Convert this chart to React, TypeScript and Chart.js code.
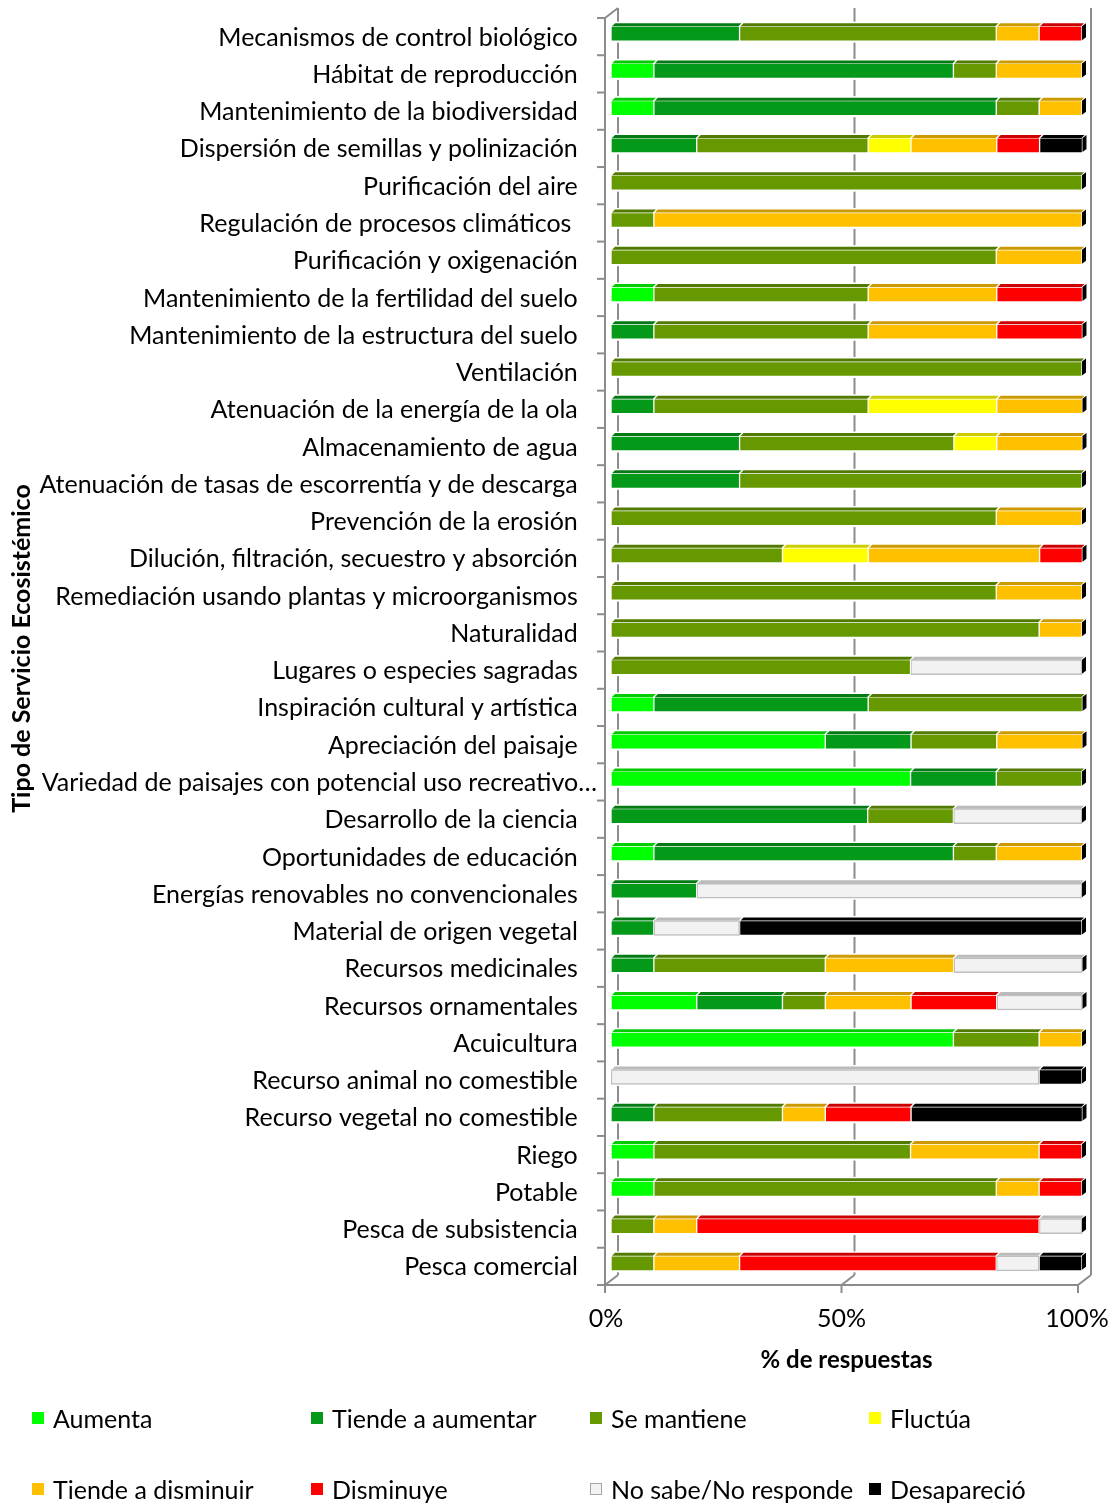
import React, { useEffect, useRef } from 'react';
import { Chart, registerables } from 'chart.js';

Chart.register(...registerables);

// Categories (ecosystem services), listed top to bottom
const categories = [
  'Mecanismos de control biológico',
  'Hábitat de reproducción',
  'Mantenimiento de la biodiversidad',
  'Dispersión de semillas y polinización',
  'Purificación del aire',
  'Regulación de procesos climáticos ',
  'Purificación y oxigenación',
  'Mantenimiento de la fertilidad del suelo',
  'Mantenimiento de la estructura del suelo',
  'Ventilación',
  'Atenuación de la energía de la ola',
  'Almacenamiento de agua',
  'Atenuación de tasas de escorrentía y de descarga',
  'Prevención de la erosión',
  'Dilución, filtración, secuestro y absorción',
  'Remediación usando plantas y microorganismos',
  'Naturalidad',
  'Lugares o especies sagradas',
  'Inspiración cultural y artística',
  'Apreciación del paisaje',
  'Variedad de paisajes con potencial uso recreativo…',
  'Desarrollo de la ciencia',
  'Oportunidades de educación',
  'Energías renovables no convencionales',
  'Material de origen vegetal',
  'Recursos medicinales',
  'Recursos ornamentales',
  'Acuicultura',
  'Recurso animal no comestible',
  'Recurso vegetal no comestible',
  'Riego',
  'Potable',
  'Pesca de subsistencia',
  'Pesca comercial',
];

// % of responses per category
const aumenta = [0, 9.1, 9.1, 0, 0, 0, 0, 9.1, 0, 0, 0, 0, 0, 0, 0, 0, 0, 0, 9.1, 45.5, 63.6, 0, 9.1, 0, 0, 0, 18.2, 72.7, 0, 0, 9.1, 9.1, 0, 0];
const tiendeAumentar = [27.3, 63.6, 72.7, 18.2, 0, 0, 0, 0, 9.1, 0, 9.1, 27.3, 27.3, 0, 0, 0, 0, 0, 45.5, 18.2, 18.2, 54.5, 63.6, 18.2, 9.1, 9.1, 18.2, 0, 0, 9.1, 0, 0, 0, 0];
const seMantiene = [54.5, 9.1, 9.1, 36.4, 100, 9.1, 81.8, 45.5, 45.5, 100, 45.5, 45.5, 72.7, 81.8, 36.4, 81.8, 90.9, 63.6, 45.5, 18.2, 18.2, 18.2, 9.1, 0, 0, 36.4, 9.1, 18.2, 0, 27.3, 54.5, 72.7, 9.1, 9.1];
const fluctua = [0, 0, 0, 9.1, 0, 0, 0, 0, 0, 0, 27.3, 9.1, 0, 0, 18.2, 0, 0, 0, 0, 0, 0, 0, 0, 0, 0, 0, 0, 0, 0, 0, 0, 0, 0, 0];
const tiendeDisminuir = [9.1, 18.2, 9.1, 18.2, 0, 90.9, 18.2, 27.3, 27.3, 0, 18.2, 18.2, 0, 18.2, 36.4, 18.2, 9.1, 0, 0, 18.2, 0, 0, 18.2, 0, 0, 27.3, 18.2, 9.1, 0, 9.1, 27.3, 9.1, 9.1, 18.2];
const disminuye = [9.1, 0, 0, 9.1, 0, 0, 0, 18.2, 18.2, 0, 0, 0, 0, 0, 9.1, 0, 0, 0, 0, 0, 0, 0, 0, 0, 0, 0, 18.2, 0, 0, 18.2, 9.1, 9.1, 72.7, 54.5];
const noSabe = [0, 0, 0, 0, 0, 0, 0, 0, 0, 0, 0, 0, 0, 0, 0, 0, 0, 36.4, 0, 0, 0, 27.3, 0, 81.8, 18.2, 27.3, 18.2, 0, 90.9, 0, 0, 0, 9.1, 9.1];
const desaparecio = [0, 0, 0, 9.1, 0, 0, 0, 0, 0, 0, 0, 0, 0, 0, 0, 0, 0, 0, 0, 0, 0, 0, 0, 0, 72.7, 0, 0, 0, 9.1, 36.4, 0, 0, 0, 9.1];

const xTicks = [0, 50, 100];

const seriesNames = ['Aumenta', 'Tiende a aumentar', 'Se mantiene', 'Fluctúa', 'Tiende a disminuir', 'Disminuye', 'No sabe/No responde', 'Desapareció'];
const seriesValues = [aumenta, tiendeAumentar, seMantiene, fluctua, tiendeDisminuir, disminuye, noSabe, desaparecio];
const seriesColors = ['#00FF00', '#05991A', '#669900', '#FFFF00', '#FFC000', '#FF0000', '#F2F2F2', '#000000'];
const seriesBorders = ['#FFFFFF', '#FFFFFF', '#FFFFFF', '#FFFFFF', '#FFFFFF', '#FFFFFF', '#BFBFBF', '#FFFFFF'];

const FONT = 'Lato, "Open Sans", sans-serif';
const DX = 13; // depth of the 3D frame
const DY = 10;
const AXIS_GREY = '#8c8c8c';
// the truncated label is cut by the label box, so it runs a little closer to the axis
const TRUNCATED = categories.findIndex((c) => c.endsWith('…'));

const shade = (hex: string, f: number) => {
  const n = parseInt(hex.slice(1), 16);
  const r = Math.round(((n >> 16) & 255) * f);
  const g = Math.round(((n >> 8) & 255) * f);
  const b = Math.round((n & 255) * f);
  return `rgb(${r},${g},${b})`;
};
const topColors = seriesColors.map((c, i) => (i === 6 ? '#BBBBBB' : shade(c, 0.8)));

const noOverhang = (s: any) => {
  s.paddingTop = 0;
  s.paddingBottom = 0;
  s.paddingLeft = 0;
  s.paddingRight = 0;
};

// Draws the 3D walls, floor and ticks, plus a white halo behind each bar
const frame3d = {
  id: 'frame3d',
  beforeDatasetsDraw(chart: any) {
    const { ctx, chartArea: a, scales } = chart;
    const xs = scales.x;
    const ys = scales.y;
    const n = categories.length;
    const step = (a.bottom - a.top) / n;
    const wallTop = a.top + 3;
    const floorY = a.bottom + 3;
    const fx = (v: number) => xs.getPixelForValue(v) - 6 + (2 * v) / 100;
    const line = (x1: number, y1: number, x2: number, y2: number) => {
      ctx.beginPath();
      ctx.moveTo(x1, y1);
      ctx.lineTo(x2, y2);
      ctx.stroke();
    };
    ctx.save();
    ctx.strokeStyle = AXIS_GREY;
    ctx.lineWidth = 2;
    xTicks.forEach((v) => line(fx(v) + DX, wallTop - DY, fx(v) + DX, floorY - DY));
    line(fx(0), wallTop, fx(0), floorY);
    line(fx(0), wallTop, fx(0) + DX, wallTop - DY);
    line(fx(0) - 8, floorY, fx(100), floorY);
    xTicks.forEach((v) => {
      line(fx(v), floorY, fx(v) + DX, floorY - DY);
      line(fx(v), floorY, fx(v), floorY + 8);
    });
    for (let k = 0; k <= n; k++) {
      const y = wallTop + k * step;
      line(fx(0) - 8, y, fx(0), y);
    }
    ctx.fillStyle = '#FFFFFF';
    for (let i = 0; i < n; i++) {
      const yc = ys.getPixelForValue(i);
      ctx.fillRect(a.left - 3, yc - 12, a.right - a.left + 9, 21);
    }
    ctx.restore();
  },
  afterDatasetsDraw(chart: any) {
    const { ctx } = chart;
    const n = categories.length;
    const ends: number[] = new Array(n).fill(-Infinity);
    const rows: { top: number; bottom: number }[] = new Array(n);
    const quad = (pts: number[][], color: string) => {
      ctx.fillStyle = color;
      ctx.beginPath();
      ctx.moveTo(pts[0][0], pts[0][1]);
      for (let k = 1; k < pts.length; k++) ctx.lineTo(pts[k][0], pts[k][1]);
      ctx.closePath();
      ctx.fill();
    };
    ctx.save();
    chart.data.datasets.forEach((_ds: any, di: number) => {
      const meta = chart.getDatasetMeta(di);
      meta.data.forEach((el: any, i: number) => {
        const { x, base, y, height } = el.getProps(['x', 'base', 'y', 'height'], true);
        const x0 = Math.min(x, base);
        const x1 = Math.max(x, base);
        const top = y - height / 2;
        rows[i] = { top, bottom: y + height / 2 };
        if (x1 - x0 < 0.5) return;
        quad(
          [
            [x0 + 1, top],
            [x0 + 4, top - 3],
            [x1 + 2, top - 3],
            [x1 - 1, top],
          ],
          topColors[di]
        );
        ends[i] = Math.max(ends[i], x1);
      });
    });
    for (let i = 0; i < n; i++) {
      if (!rows[i] || !isFinite(ends[i])) continue;
      const { top, bottom } = rows[i];
      const xe = ends[i];
      quad(
        [
          [xe, top],
          [xe + 4, top - 3],
          [xe + 4, bottom - 4],
          [xe, bottom - 1],
        ],
        '#000000'
      );
    }
    ctx.restore();
  },
};

const legendLayout = { left: 32, colGap: 279, rows: [1418, 1489] };

export default function App() {
  const canvasRef = useRef<HTMLCanvasElement | null>(null);

  useEffect(() => {
    document.body.style.margin = '0';
    document.body.style.overflow = 'hidden';
    const canvas = canvasRef.current;
    if (!canvas) return;
    Chart.defaults.font.family = FONT;
    const chart = new Chart(canvas, {
      type: 'bar',
      data: {
        labels: categories,
        datasets: seriesNames.map((name, i) => ({
          label: name,
          data: seriesValues[i],
          backgroundColor: seriesColors[i],
          borderColor: seriesBorders[i],
          borderWidth: i === 6 ? 1.5 : 1,
          borderSkipped: false,
          barThickness: 15,
        })),
      },
      options: {
        indexAxis: 'y',
        responsive: false,
        animation: false,
        events: [],
        layout: { padding: { top: 15, right: 30, bottom: 113, left: 0 } },
        plugins: { legend: { display: false }, tooltip: { enabled: false } },
        scales: {
          x: {
            stacked: true,
            min: 0,
            max: 100,
            grid: { display: false },
            border: { display: false },
            afterFit: (s: any) => {
              s.height = 110;
              noOverhang(s);
            },
            ticks: {
              stepSize: 50,
              callback: (v: any) => `${v}%`,
              padding: 14,
              labelOffset: -5,
              color: '#000',
              font: { size: 25 },
            },
            title: {
              display: true,
              text: '% de respuestas',
              color: '#000',
              font: { size: 24, weight: 'bold' },
              padding: { top: 0, bottom: 17 },
            },
          },
          y: {
            stacked: true,
            grid: { display: false },
            border: { display: false },
            afterFit: (s: any) => {
              s.width = 611;
              noOverhang(s);
            },
            ticks: {
              autoSkip: false,
              padding: 6,
              labelOffset: 4,
              color: '#000',
              font: { size: 25 },
              callback: (_v: any, i: number) => (i === TRUNCATED ? categories[i] : categories[i] + '   '),
            },
            title: {
              display: true,
              text: 'Tipo de Servicio Ecosistémico',
              color: '#000',
              font: { size: 25, weight: 'bold' },
              padding: { top: 7, bottom: 0 },
            },
          },
        },
      },
      plugins: [frame3d],
    } as any);
    return () => chart.destroy();
  }, []);

  return (
    <div style={{ position: 'absolute', left: 0, top: 0, width: 1112, height: 1505, background: '#fff' }}>
      <canvas ref={canvasRef} width={1112} height={1505} style={{ display: 'block', width: 1112, height: 1505 }} />
      {seriesNames.map((name, i) => {
        const col = i % 4;
        const row = Math.floor(i / 4);
        return (
          <div
            key={name}
            style={{
              position: 'absolute',
              left: legendLayout.left + col * legendLayout.colGap,
              top: legendLayout.rows[row] - 15,
              height: 30,
              display: 'flex',
              alignItems: 'center',
              fontFamily: FONT,
              fontSize: 25,
              color: '#000',
              whiteSpace: 'nowrap',
            }}
          >
            <span
              style={{
                display: 'inline-block',
                width: 12,
                height: 12,
                background: seriesColors[i],
                border: i === 6 ? '1.5px solid #A6A6A6' : 'none',
                boxSizing: 'border-box',
                marginRight: 9,
              }}
            />
            {name}
          </div>
        );
      })}
    </div>
  );
}
